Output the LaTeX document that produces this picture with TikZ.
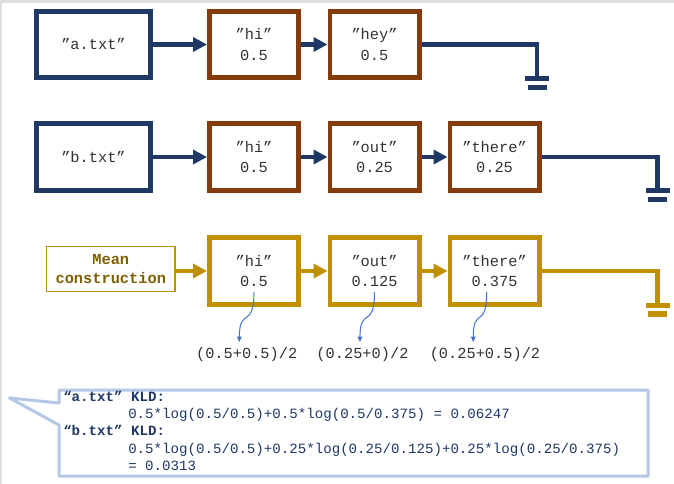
\documentclass[tikz,border=0pt]{standalone}
\usepackage{fontspec}
\setmonofont{Liberation Mono}
\usetikzlibrary{arrows.meta}
\definecolor{navy}{HTML}{1F3864}
\definecolor{rust}{HTML}{843C0C}
\definecolor{gold}{HTML}{BF8F00}
\definecolor{darkgold}{HTML}{7F6000}
\definecolor{paleblue}{HTML}{B4C7E7}
\definecolor{framegray}{HTML}{DFDFDF}
\definecolor{annoblue}{HTML}{4472C4}
\begin{document}
\begin{tikzpicture}[x=0.75pt,y=-0.75pt,
    every node/.style={font=\ttfamily\fontsize{11.5}{15.5}\selectfont, text=black!80, align=center},
    filebox/.style={draw=navy, line width=3.5pt, fill=white, minimum width=85.7pt, minimum height=49.8pt},
    valbox/.style={draw=#1, line width=3.5pt, fill=white, minimum width=67pt, minimum height=49.8pt},
    link/.style={draw=#1, line width=3.6pt, -{Triangle[length=10.5pt,width=10.5pt]}},
    wire/.style={draw=#1, line width=3.6pt},
    sumtext/.style={inner sep=0pt},
    note/.style={annoblue, line width=0.75pt, -{Triangle[length=4pt,width=3.5pt]}},
    earth/.pic={\fill (-12,0) rectangle (12,5); \fill (-9.5,8.7) rectangle (9.5,14);}
  ]
  \useasboundingbox (0,0) rectangle (674,484);
  \fill[framegray] (0,0) rectangle (674,3);
  \fill[framegray] (0,0) rectangle (2,484);

  % a.txt
  \node[filebox] (afile) at (93.5,44.5) {”a.txt”};
  \node[valbox=rust] (ahi) at (254,44.5) {”hi”\\0.5};
  \node[valbox=rust] (ahey) at (374.5,44.5) {”hey”\\0.5};
  \coordinate (agnd) at (537,76);
  \draw[link=navy] (afile) -- (ahi);
  \draw[link=navy] (ahi) -- (ahey);
  \draw[wire=navy] (ahey.east) -| (agnd);
  \pic[color=navy] at (agnd) {earth};

  % b.txt
  \node[filebox] (bfile) at (93.5,157) {”b.txt”};
  \node[valbox=rust] (bhi) at (254,157) {”hi”\\0.5};
  \node[valbox=rust] (bout) at (374.5,157) {”out”\\0.25};
  \node[valbox=rust] (bthere) at (494.5,157) {”there”\\0.25};
  \coordinate (bgnd) at (657.5,188);
  \draw[link=navy] (bfile) -- (bhi);
  \draw[link=navy] (bhi) -- (bout);
  \draw[link=navy] (bout) -- (bthere);
  \draw[wire=navy] (bthere.east) -| (bgnd);
  \pic[color=navy] at (bgnd) {earth};

  % mean
  \node[draw=gold, line width=1pt, fill=white, minimum width=96.5pt, minimum height=33.5pt,
        text=darkgold, font=\ttfamily\bfseries\fontsize{11.5}{14.3}\selectfont] (mean) at (110.8,269) {Mean\\construction};
  \node[valbox=gold] (mhi) at (254,271) {”hi”\\0.5};
  \node[valbox=gold] (mout) at (374.5,271) {”out”\\0.125};
  \node[valbox=gold] (mthere) at (494.5,271) {”there”\\0.375};
  \coordinate (mgnd) at (657.5,302.7);
  \draw[link=gold] (mean.east |- mhi) -- (mhi);
  \draw[link=gold] (mhi) -- (mout);
  \draw[link=gold] (mout) -- (mthere);
  \draw[wire=gold] (mthere.east) -| (mgnd);
  \pic[color=gold] at (mgnd) {earth};

  \node[sumtext] (fhi) at (246.7,355) {(0.5+0.5)/2};
  \node[sumtext] (fout) at (362.5,355) {(0.25+0)/2};
  \node[sumtext] (fthere) at (485,355) {(0.25+0.5)/2};
  \foreach \v/\f/\s/\e in {mhi/fhi/0/-5.5, mout/fout/0/-1.9, mthere/fthere/-5.9/-8.8}
    \draw[note] ([xshift=\s pt,yshift=-15.75pt]\v.center) .. controls +(0,38) and +(0,-36) .. ([xshift=\e pt,yshift=4.2pt]\f.north);

  % KLD
  \draw[paleblue, line width=2.25pt, fill=white, line join=round] (59,390) -- (648,390) -- (648,476) -- (59,476) -- (59,425) -- (9.5,398) -- (59,403) -- cycle;
  \node[anchor=north west, inner sep=0pt, align=left, text=navy, font=\ttfamily\fontsize{10.6}{12.9}\selectfont] (kld) at (63,391)
    {\textbf{“a.txt” KLD:}\\
     \hspace*{48.75pt}0.5*log(0.5/0.5)+0.5*log(0.5/0.375) = 0.06247\\
     \textbf{“b.txt” KLD:}\\
     \hspace*{48.75pt}0.5*log(0.5/0.5)+0.25*log(0.25/0.125)+0.25*log(0.25/0.375)\\
     \hspace*{48.75pt}= 0.0313};
\end{tikzpicture}
\end{document}
